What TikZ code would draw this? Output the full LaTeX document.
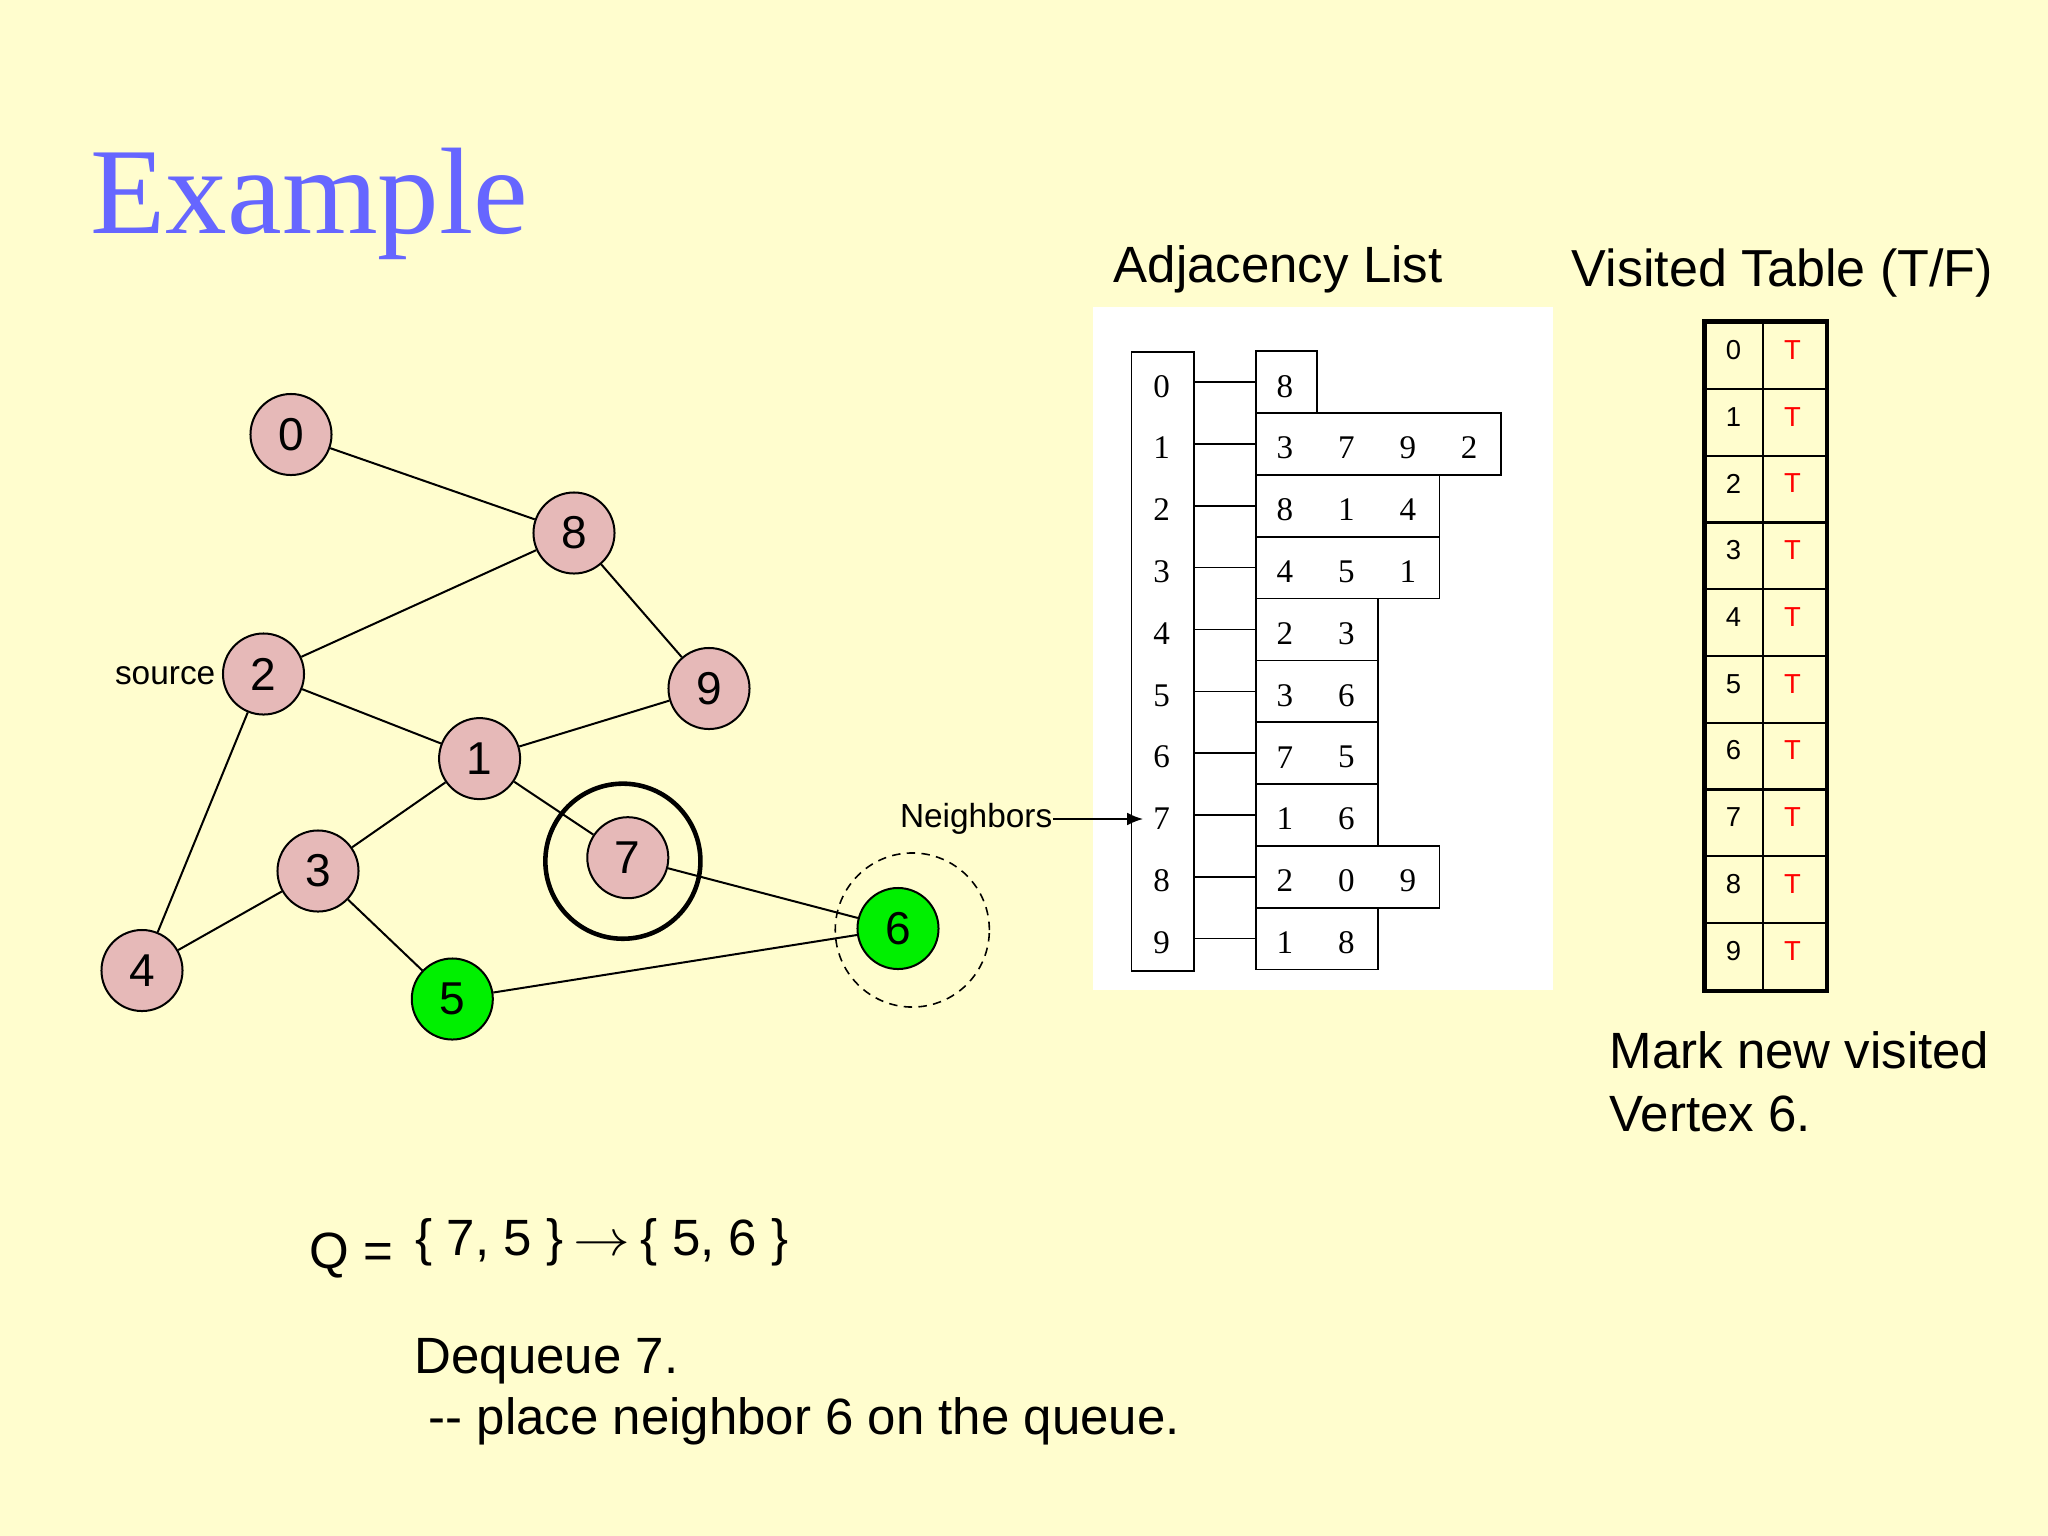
\documentclass[tikz,border=0pt]{standalone}
\usepackage{fontspec}
\setmainfont{Liberation Sans}
\newfontfamily\serifff{Liberation Serif}
\usetikzlibrary{arrows.meta}
\definecolor{bg}{RGB}{255,253,206}
\definecolor{rose}{RGB}{230,185,184}
\definecolor{vgreen}{RGB}{0,240,0}
\definecolor{titleblue}{RGB}{102,102,255}
\definecolor{tred}{RGB}{255,0,0}
\begin{document}
\begin{tikzpicture}[x=0.01cm,y=-0.01cm,
 vert/.style={circle,draw,line width=0.57pt,fill=rose,minimum size=0.81cm,inner sep=0pt,font=\fontsize{13.1}{15}\selectfont},
 visitedvert/.style={vert,fill=vgreen},
 edge/.style={line width=0.57pt},
 bigtxt/.style={font=\fontsize{14.5}{17}\selectfont,inner sep=0pt},
 smalltxt/.style={font=\fontsize{9.5}{11}\selectfont,inner sep=0pt},
 adjbox/.style={draw,line width=0.45pt,inner sep=0pt,minimum height=0.618cm},
 adjtxt/.style={font=\serifff\fontsize{9.4}{11}\selectfont,inner sep=0pt},
 vcell/.style={draw,line width=0.6pt,inner sep=0pt,minimum height=0.6674cm},
 vtxt/.style={font=\fontsize{7.8}{9}\selectfont,inner sep=0pt}
]
\fill[bg] (0,0) rectangle (2048,1536);
\useasboundingbox (0,0) rectangle (2048,1536);

% title
\node[anchor=base west,inner sep=0pt,font=\serifff\fontsize{35}{40}\selectfont,text=titleblue] (title) at (90,233) {Example};

% graph
\node[circle,draw,line width=1.3pt,minimum size=1.55cm,inner sep=0pt] (ring7) at (622.9,861.2) {};
\node[circle,draw,line width=0.45pt,dash pattern=on 2.4pt off 1.8pt,minimum size=1.54cm,inner sep=0pt] (ring6) at (912.3,930) {};
\node[vert] (n0) at (291,434.5) {0};
\node[vert] (n8) at (574,533) {8};
\node[vert] (n2) at (263.5,674) {2};
\node[vert] (n9) at (709,688.5) {9};
\node[vert] (n1) at (479.6,758.6) {1};
\node[vert] (n7) at (627.8,857.7) {7};
\node[vert] (n3) at (318,871) {3};
\node[vert] (n4) at (142,970.5) {4};
\node[visitedvert] (n5) at (452.3,999) {5};
\node[visitedvert] (n6) at (898,928.5) {6};
\node[smalltxt,anchor=base east] (src) at (216,684) {source};
\draw[edge] (n0)--(n8) (n8)--(n2) (n8)--(n9) (n2)--(n1) (n2)--(n4) (n1)--(n9)
  (n1)--(n3) (n1)--(n7) (n3)--(n4) (n3)--(n5) (n7)--(n6) (n5)--(n6);

% adjacency list
\node[bigtxt,anchor=base west] (adjt) at (1113,282) {Adjacency List};
\fill[white] (1092.7,306.7) rectangle (1552.7,989.7);
\node[draw,line width=0.45pt,minimum width=0.626cm,minimum height=6.183cm,inner sep=0pt,anchor=north west] (idxcol) at (1130.7,351.3) {};
\foreach \k/\n/\lst in {0/1/{8},1/4/{3,7,9,2},2/3/{8,1,4},3/3/{4,5,1},4/2/{2,3},5/2/{3,6},6/2/{7,5},7/2/{1,6},8/3/{2,0,9},9/2/{1,8}} {
  \node[adjtxt] (ix-\k) at (1161.7,{386.2+61.83*\k}) {\k};
  \node[adjbox,minimum width=\n*0.612cm,anchor=west] (row-\k) at (1255,{382.2+61.83*\k}) {};
  \draw[line width=0.45pt] (idxcol.east |- row-\k.west) -- (row-\k.west);
  \foreach \d [count=\j from 0] in \lst {
    \node[adjtxt] (c-\k-\j) at ({1285+61.4*\j},{386.2+61.83*\k}) {\d};
  }
}
\node[smalltxt,anchor=east] (nb) at (1053,819) {Neighbors};
\coordinate (nbtip) at (1143,819);
\draw[line width=0.45pt,-{Latex[length=4.5pt,width=3.6pt]}] (nb.east) -- (nbtip);

% visited table
\node[anchor=base west,inner sep=0pt,font=\fontsize{14.8}{17}\selectfont] (vist) at (1571,286) {Visited Table (T/F)};
\foreach \k in {0,...,9} {
  \node[vcell,minimum width=0.576cm] (vi-\k) at (1734.5,{355.67+66.74*\k}) {};
  \node[vcell,minimum width=0.624cm] (vt-\k) at (1794.5,{355.67+66.74*\k}) {};
  \node[vtxt] (vil-\k) at (1733.5,{350+66.74*\k}) {\k};
  \node[vtxt,text=tred] (vtl-\k) at (1792.5,{350+66.74*\k}) {T};
}
\draw[line width=1.3pt] (vi-0.north west) rectangle (vt-9.south east);
\node[bigtxt,anchor=base west] (mk1) at (1609,1068) {Mark new visited};
\node[bigtxt,anchor=base west] (mk2) at (1609,1131) {Vertex 6.};

% queue text
\node[bigtxt,anchor=base west] (q) at (309,1268) {Q =};
\node[anchor=base west,inner sep=0pt,font=\fontsize{14.5}{17}\selectfont] (qs) at (415,1255) {\{ 7, 5 \}\hspace{3pt}\scalebox{1.12}[1]{$\rightarrow$}\hspace{3pt}\{ 5, 6 \}};
\node[bigtxt,anchor=base west] (dq) at (414,1373) {Dequeue 7.};
\node[bigtxt,anchor=base west] (pl) at (428,1434) {-{}- place neighbor 6 on the queue.};
\end{tikzpicture}
\end{document}
